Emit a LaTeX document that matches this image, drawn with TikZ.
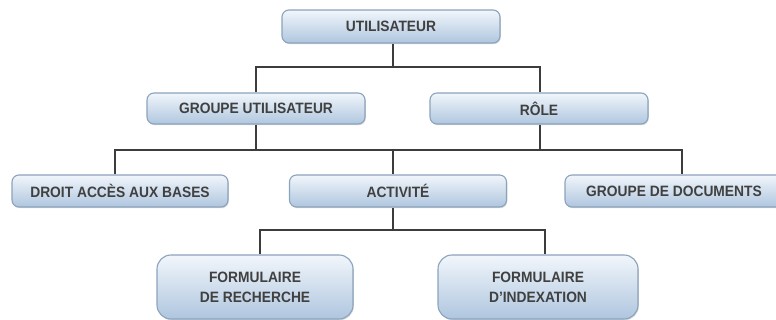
\documentclass[tikz,border=0pt]{standalone}
\usepackage{fontspec}
\setmainfont{Liberation Sans}
\newfontfamily\boxfont[FakeStretch=0.92]{Liberation Sans}
\usetikzlibrary{shadows}
\definecolor{boxtop}{HTML}{F1F6FB}
\definecolor{boxbot}{HTML}{AFC6DF}
\definecolor{boxline}{HTML}{8CA3BC}
\definecolor{txt}{HTML}{404040}
\definecolor{wire}{HTML}{3C3C3C}
\tikzset{
  box/.style={draw=boxline, line width=1.1pt, rounded corners=7pt,
    top color=boxtop, bottom color=boxbot, inner sep=0pt,
    text=txt, font=\boxfont\fontsize{15}{20}\selectfont\bfseries, align=center,
    drop shadow={shadow xshift=0.8pt, shadow yshift=-1.2pt, opacity=0.25, fill=black!60}},
  bigbox/.style={box, rounded corners=14pt},
  wirestyle/.style={draw=wire, line width=1.3pt}
}
\begin{document}
\begin{tikzpicture}[x=1pt,y=-1pt]
\useasboundingbox (0,0) rectangle (776,320);
\node[box, minimum width=218pt, minimum height=33pt] (u) at (391,26.5) {UTILISATEUR};
\node[box, minimum width=218pt, minimum height=31pt] (gu) at (256,108.5) {GROUPE UTILISATEUR};
\node[box, minimum width=218pt, minimum height=31pt] (role) at (539,108.5) {RÔLE};
\node[box, minimum width=216pt, minimum height=32pt] (dr) at (120,191) {DROIT ACCÈS AUX BASES};
\node[box, minimum width=217pt, minimum height=32pt] (act) at (398,191) {ACTIVITÉ};
\node[box, minimum width=218pt, minimum height=32pt] (gd) at (674,191) {GROUPE DE DOCUMENTS};
\node[bigbox, minimum width=196pt, minimum height=64pt] (f1) at (255,287) {FORMULAIRE\\DE RECHERCHE};
\node[bigbox, minimum width=200pt, minimum height=64pt] (f2) at (538,287) {FORMULAIRE\\D’INDEXATION};
\coordinate (b1) at (393,67);
\coordinate (b2) at (393,150);
\coordinate (b3) at (393,230);
% level 1
\draw[wirestyle] ([xshift=2pt]u.south) -- (b1);
\draw[wirestyle] (gu.north) |- (b1) -| ([xshift=1pt]role.north);
% level 2
\draw[wirestyle] (gu.south) -- (gu.south |- b2);
\draw[wirestyle] ([xshift=1pt]role.south) -- ([xshift=1pt]role.south |- b2);
\draw[wirestyle] ([xshift=-5pt]dr.north) |- (b2) -| ([xshift=8pt]gd.north);
\draw[wirestyle] (b2) -- ([xshift=-5pt]act.north);
% level 3
\draw[wirestyle] ([xshift=-5pt]act.south) -- (b3);
\draw[wirestyle] ([xshift=5pt]f1.north) |- (b3) -| ([xshift=7pt]f2.north);
\end{tikzpicture}
\end{document}
